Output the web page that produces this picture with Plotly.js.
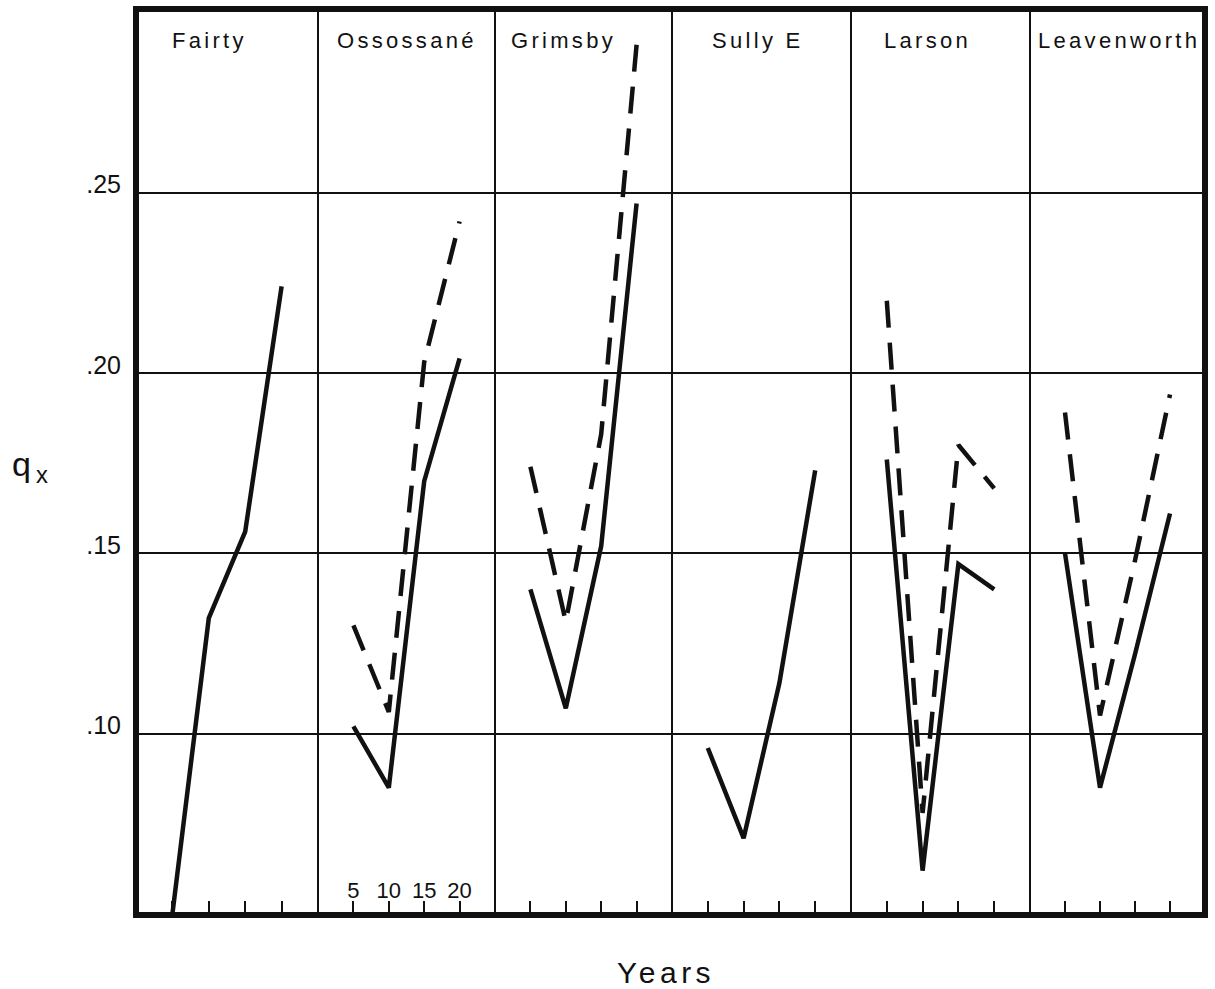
<!DOCTYPE html>
<html>
<head>
<meta charset="utf-8">
<script src="https://cdn.plot.ly/plotly-3.0.1.min.js"></script>
<style>
  html, body { margin: 0; padding: 0; background: #fff; }
  #chart { width: 1215px; height: 989px; }
  /* widely tracked lettering for the panel names and axis captions */
  .annotation-text { letter-spacing: 0.15em; }
</style>
</head>
<body>
<div id="chart"></div>
<script>
// Age interval (years) at which q_x is plotted in each panel
const years = [5, 10, 15, 20];
const yearTicks = ['5', '10', '15', '20'];

// Sites, one panel each
const sites = ['Fairty', 'Ossossané', 'Grimsby', 'Sully E', 'Larson', 'Leavenworth'];

// q_x per site: solid series
const fairtySolid      = [0.050, 0.132, 0.156, 0.224];
const ossossaneSolid   = [0.102, 0.085, 0.170, 0.204];
const grimsbySolid     = [0.140, 0.107, 0.152, 0.247];
const sullySolid       = [0.096, 0.071, 0.114, 0.173];
const larsonSolid      = [0.176, 0.062, 0.147, 0.140];
const leavenworthSolid = [0.150, 0.085, 0.122, 0.161];

// q_x per site: dashed series
const ossossaneDashed   = [0.130, 0.106, 0.203, 0.242];
const grimsbyDashed     = [0.174, 0.131, 0.183, 0.291];
const larsonDashed      = [0.220, 0.078, 0.180, 0.168];
const leavenworthDashed = [0.189, 0.105, 0.148, 0.194];

// Value-axis ticks
const qTicks = [0.10, 0.15, 0.20, 0.25];
const qTickText = ['.10', '.15', '.20', '.25'];

// ---- layout geometry ----
const FIG_W = 1215, FIG_H = 989;
const M = { l: 136, r: 10, t: 9, b: 74 };
const plotW = FIG_W - M.l - M.r;
const plotH = FIG_H - M.t - M.b;
// panel boundaries in pixels from the figure's left edge
const panelEdgesPx = [136, 318, 495, 672, 851, 1030, 1205];
const frac = px => (px - M.l) / plotW;
const fracY = py => 1 - (py - M.t) / plotH;

const solidSeries = [fairtySolid, ossossaneSolid, grimsbySolid, sullySolid, larsonSolid, leavenworthSolid];
const dashedSeries = [null, ossossaneDashed, grimsbyDashed, null, larsonDashed, leavenworthDashed];

const INK = '#111';
const traces = [];
sites.forEach((site, i) => {
  const xa = i === 0 ? 'x' : 'x' + (i + 1);
  if (dashedSeries[i]) {
    traces.push({
      type: 'scatter', mode: 'lines', name: site + ' (dashed)',
      x: years, y: dashedSeries[i], xaxis: xa, yaxis: 'y',
      line: { color: INK, width: 4.5, dash: '27px,15px' },
      hoverinfo: 'skip', showlegend: false
    });
  }
  traces.push({
    type: 'scatter', mode: 'lines', name: site,
    x: years, y: solidSeries[i], xaxis: xa, yaxis: 'y',
    line: { color: INK, width: 4.5 },
    hoverinfo: 'skip', showlegend: false
  });
});

const layout = {
  width: FIG_W, height: FIG_H,
  margin: M,
  paper_bgcolor: '#fff', plot_bgcolor: '#fff',
  font: { family: 'Liberation Sans, Arial, sans-serif', color: INK },
  showlegend: false,
  yaxis: {
    anchor: 'x',
    range: [0.0497, 0.3009],
    tickvals: qTicks, ticktext: qTickText,
    ticks: '', showline: false, zeroline: false,
    showgrid: true, gridcolor: INK, gridwidth: 2,
    ticklabelposition: 'outside',
    ticklabelshift: -8,
    ticklabelstandoff: 14,
    tickfont: { size: 25, color: INK },
    automargin: false
  },
  shapes: [],
  annotations: []
};

// label centres inside each panel
const labelCentresPx = [209, 407, 563, 758, 927, 1119];

sites.forEach((site, i) => {
  const key = i === 0 ? 'xaxis' : 'xaxis' + (i + 1);
  layout[key] = {
    anchor: 'y',
    domain: [frac(panelEdgesPx[i]), frac(panelEdgesPx[i + 1])],
    range: [0, 25],
    tickvals: years, ticktext: yearTicks,
    ticks: 'inside', ticklen: 14, tickwidth: 2, tickcolor: INK,
    showticklabels: i === 1,
    ticklabelposition: 'inside',
    tickfont: { size: 22, color: INK },
    showgrid: false, zeroline: false, showline: false,
    automargin: false
  };
  // panel name across the top of each panel
  layout.annotations.push({
    xref: 'paper', yref: 'paper',
    x: frac(labelCentresPx[i]), y: fracY(41),
    xanchor: 'center', yanchor: 'middle',
    text: site, showarrow: false,
    font: { size: 22, color: INK }
  });
});

// vertical separators between panels
for (let i = 1; i < panelEdgesPx.length - 1; i++) {
  layout.shapes.push({
    type: 'line', xref: 'paper', yref: 'paper',
    x0: frac(panelEdgesPx[i]), x1: frac(panelEdgesPx[i]), y0: 0, y1: 1,
    line: { color: INK, width: 2 }, layer: 'above'
  });
}
// heavy frame round the whole plotting area
layout.shapes.push({
  type: 'rect', xref: 'paper', yref: 'paper',
  x0: 0, x1: 1, y0: 0, y1: 1,
  line: { color: INK, width: 6 }, fillcolor: 'rgba(0,0,0,0)', layer: 'above'
});

// axis captions
layout.annotations.push({
  xref: 'paper', yref: 'paper',
  x: frac(32), y: fracY(466),
  xanchor: 'center', yanchor: 'middle',
  text: 'q<sub>x</sub>', showarrow: false,
  font: { size: 34, color: INK }
});
layout.annotations.push({
  xref: 'paper', yref: 'paper',
  x: frac(666), y: fracY(972),
  xanchor: 'center', yanchor: 'middle',
  text: 'Years', showarrow: false,
  font: { size: 30, color: INK }
});

Plotly.newPlot('chart', traces, layout, { staticPlot: true, displayModeBar: false });
</script>
</body>
</html>
